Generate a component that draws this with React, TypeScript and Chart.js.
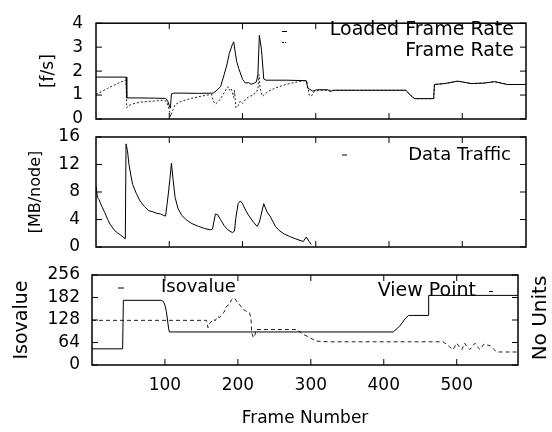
import React, { useEffect, useRef } from "react";
import { Chart, registerables } from "chart.js";
Chart.register(...registerables);

const FONT = "'DejaVu Sans', 'Liberation Sans', sans-serif";

// ---------- Panel 1: frame rates [f/s] ----------
const loadedFrames = [
  0, 41, 42, 60, 80, 95, 98, 100, 101.5, 103,
  106, 120, 140, 160, 165, 170, 175, 179, 182, 186,
  188, 190, 192, 195, 200, 204, 208, 212, 216, 219,
  221, 223, 226, 229, 232, 260, 287, 289, 296, 301,
  317, 319, 325, 360, 400, 423, 429, 435, 461, 462,
  476, 494, 512, 530, 544, 562, 587,
];
const loadedRate = [
  1.75, 1.75, 0.88, 0.88, 0.87, 0.86, 0.75, 0.55, 0.45, 1.05,
  1.08, 1.08, 1.07, 1.08, 1.2, 1.35, 1.86, 2.3, 2.74, 3.1,
  3.22, 2.8, 2.4, 2.1, 1.66, 1.5, 1.52, 1.45, 1.5, 1.55,
  1.86, 3.5, 2.87, 1.67, 1.62, 1.62, 1.6, 1.29, 1.16, 1.22,
  1.22, 1.15, 1.2, 1.2, 1.2, 1.2, 1.0, 0.85, 0.85, 1.44,
  1.48, 1.58, 1.48, 1.5, 1.56, 1.44, 1.44,
];
const rateFrames = [
  0, 8, 16, 24, 32, 40, 41, 42, 44, 50,
  60, 70, 80, 90, 96, 99, 101, 102, 104, 108,
  115, 125, 140, 152, 158, 160, 163, 166, 170, 175,
  180, 182, 184, 186, 188, 189, 191, 194, 197, 200,
  205, 210, 215, 218, 221, 222.5, 224, 227, 229, 235,
  245, 260, 275, 285, 288, 291, 294, 298, 305, 320,
  360, 400, 423, 429, 435, 461, 462, 476, 494, 512,
  530, 544, 562, 587,
];
const frameRate = [
  1.03, 1.15, 1.28, 1.4, 1.52, 1.62, 1.6, 0.47, 0.55, 0.63,
  0.7, 0.73, 0.75, 0.78, 0.75, 0.5, 0.25, 0.1, 0.3, 0.6,
  0.72, 0.82, 0.93, 1.0, 1.02, 0.75, 0.62, 0.7, 0.85, 1.1,
  1.35, 1.2, 1.28, 1.15, 0.9, 1.2, 0.47, 0.55, 0.75, 0.65,
  0.85, 0.95, 1.0, 1.15, 1.2, 1.85, 1.3, 0.95, 1.0, 1.15,
  1.3, 1.45, 1.55, 1.6, 1.55, 1.0, 0.95, 1.15, 1.2, 1.2,
  1.2, 1.2, 1.2, 1.0, 0.85, 0.85, 1.44, 1.48, 1.58, 1.48,
  1.5, 1.56, 1.44, 1.44,
];

// ---------- Panel 2: data traffic [MB/node] ----------
const trafficFrames = [
  0, 2, 4, 8, 12, 16, 19, 24, 28, 34,
  40, 41, 43, 45, 48, 50, 55, 60, 66, 72,
  78, 83, 88, 92, 95, 97, 99, 101, 103, 105,
  108, 112, 117, 124, 131, 140, 148, 156, 159, 163,
  166, 170, 175, 180, 186, 189, 191, 194, 197, 200,
  205, 209, 215, 220, 223, 229, 233, 238, 245, 250,
  257, 264, 272, 283, 287, 291, 294,
];
const dataTraffic = [
  8.8, 7.2, 6.9, 5.9, 5.0, 4.0, 3.35, 2.6, 2.15, 1.7,
  1.2, 15.0, 14.0, 12.0, 10.2, 9.1, 7.8, 6.7, 5.9, 5.3,
  5.1, 4.9, 4.8, 4.6, 4.5, 6.2, 8.0, 10.0, 12.2, 10.0,
  7.2, 5.6, 4.6, 3.9, 3.4, 3.0, 2.7, 2.5, 2.6, 4.8,
  4.7, 4.0, 3.1, 2.5, 2.1, 2.3, 4.3, 6.3, 6.7, 6.3,
  5.2, 4.5, 3.6, 3.0, 3.6, 6.3, 5.2, 4.4, 3.0, 2.4,
  1.9, 1.55, 1.2, 0.8, 1.45, 0.8, 0.35,
];

// ---------- Panel 3: isovalue / view point ----------
const isoFrames = [0, 42, 43, 95, 98, 100, 102, 103.5, 105, 106, 413, 422, 429, 434, 461, 461.5, 584];
const isovalue = [46, 46, 184, 184, 180, 170, 152, 128, 105, 94, 94, 111, 131, 141, 141, 198, 198];
const viewFrames = [
  0, 157, 159, 161, 163, 166, 169, 172, 175, 178,
  181, 183, 185, 188, 191, 194, 196, 198, 200, 203,
  207, 210, 213, 216, 218, 219, 221, 223, 225, 281,
  290, 300, 308, 324, 481, 486, 490, 495, 500, 504,
  507, 511, 514, 518, 525, 528, 532, 537, 546, 550,
  555, 584,
];
const viewPoint = [
  127, 127, 106, 118, 122, 130, 126, 138, 135, 144,
  150, 162, 168, 172, 185, 191, 188, 182, 177, 170,
  158, 155, 150, 149, 130, 92, 78, 82, 101, 101,
  87, 76, 68, 66, 66, 59, 52, 44, 62, 50,
  44, 62, 52, 44, 62, 52, 44, 59, 55, 46,
  37, 37,
];

// ---------- ticks ----------
const xTicks = [100, 200, 300, 400, 500];
const xTickLabels = ["100", "200", "300", "400", "500"];
const yTicks1 = [0, 1, 2, 3, 4];
const yTicks2 = [0, 4, 8, 12, 16];
const yTicks3 = [0, 64, 128, 192, 256];
const yTickLabels3 = ["0", "64", "128", "182", "256"];

const pts = (xs: number[], ys: number[]) => xs.map((x, i) => ({ x, y: ys[i] }));

type TextItem = { text: string; x: number; y: number; align: CanvasTextAlign; size: number; rotate?: boolean };
type Sample = { x1: number; x2: number; y: number; dash: number[] };
type Deco = { xTicks: number[]; yTicks: number[]; texts: TextItem[]; samples: Sample[] };

function decoPlugin(d: Deco) {
  return {
    id: "deco",
    afterDraw(chart: any) {
      const { ctx, chartArea: a, scales } = chart;
      ctx.save();
      ctx.strokeStyle = "#000";
      ctx.lineWidth = 1.5;
      ctx.setLineDash([]);
      ctx.strokeRect(a.left, a.top, a.right - a.left, a.bottom - a.top);
      ctx.lineWidth = 1;
      ctx.beginPath();
      for (const v of d.xTicks) {
        const p = scales.x.getPixelForValue(v);
        ctx.moveTo(p, a.top);
        ctx.lineTo(p, a.top + 6);
        ctx.moveTo(p, a.bottom);
        ctx.lineTo(p, a.bottom - 6);
      }
      for (const v of d.yTicks) {
        const p = scales.y.getPixelForValue(v);
        ctx.moveTo(a.left, p);
        ctx.lineTo(a.left + 6, p);
        ctx.moveTo(a.right, p);
        ctx.lineTo(a.right - 6, p);
      }
      ctx.stroke();
      for (const s of d.samples) {
        ctx.setLineDash(s.dash);
        ctx.beginPath();
        ctx.moveTo(s.x1, s.y);
        ctx.lineTo(s.x2, s.y);
        ctx.stroke();
      }
      ctx.setLineDash([]);
      ctx.fillStyle = "#000";
      ctx.textBaseline = "middle";
      for (const t of d.texts) {
        ctx.font = `${t.size}px ${FONT}`;
        ctx.textAlign = t.align;
        if (t.rotate) {
          ctx.save();
          ctx.translate(t.x, t.y);
          ctx.rotate(-Math.PI / 2);
          ctx.fillText(t.text, 0, 0);
          ctx.restore();
        } else {
          ctx.fillText(t.text, t.x, t.y);
        }
      }
      ctx.restore();
    },
  };
}

const baseLine = { borderColor: "#000", borderWidth: 1, pointRadius: 0, tension: 0, fill: false };

function yAxis(ticks: number[], labels: string[] | null, min: number, max: number, width: number, pad: number, title: string, titleSize: number, titlePad: number) {
  return {
    type: "linear",
    min,
    max,
    afterBuildTicks: (s: any) => { s.ticks = ticks.map((v) => ({ value: v })); },
    afterFit: (s: any) => { s.width = width; },
    grid: { display: false, drawTicks: false },
    border: { display: false },
    ticks: {
      padding: pad,
      color: "#000",
      autoSkip: false,
      font: { family: FONT, size: 17 },
      callback: (v: any, i: number) => (labels ? labels[i] : String(v)),
    },
    title: { display: true, text: title, color: "#000", font: { family: FONT, size: titleSize }, padding: { top: titlePad, bottom: 0 } },
  };
}

function config1() {
  return {
    type: "line",
    data: {
      datasets: [
        { ...baseLine, label: "Loaded Frame Rate", data: pts(loadedFrames, loadedRate) },
        { ...baseLine, label: "Frame Rate", data: pts(rateFrames, frameRate), borderColor: "#222", borderDash: [2, 2] },
      ],
    },
    options: {
      responsive: false, animation: false, events: [],
      layout: { padding: { left: 0, top: 13, right: 26, bottom: 313 } },
      plugins: { legend: { display: false }, tooltip: { enabled: false } },
      scales: {
        x: { type: "linear", min: 0, max: 587, display: false },
        y: yAxis(yTicks1, null, 0, 4, 96, 13, "[f/s]", 17, 38.8),
      },
    },
    plugins: [decoPlugin({
      xTicks, yTicks: yTicks1,
      texts: [
        { text: "Loaded Frame Rate", x: 514, y: 30, align: "right", size: 19 },
        { text: "Frame Rate", x: 514, y: 51, align: "right", size: 19 },
      ],
      samples: [
        { x1: 282, x2: 287, y: 31.5, dash: [] },
        { x1: 282, x2: 286, y: 42.5, dash: [2, 1] },
      ],
    })],
  };
}

function config2() {
  return {
    type: "line",
    data: { datasets: [{ ...baseLine, label: "Data Traffic", data: pts(trafficFrames, dataTraffic) }] },
    options: {
      responsive: false, animation: false, events: [],
      layout: { padding: { left: 0, top: 137, right: 26, bottom: 185 } },
      plugins: { legend: { display: false }, tooltip: { enabled: false } },
      scales: {
        x: { type: "linear", min: 0, max: 587, display: false },
        y: yAxis(yTicks2, null, 0, 16, 96, 16, "[MB/node]", 16, 26.4),
      },
    },
    plugins: [decoPlugin({
      xTicks, yTicks: yTicks2,
      texts: [{ text: "Data Traffic", x: 511, y: 155, align: "right", size: 18 }],
      samples: [{ x1: 342, x2: 347, y: 155, dash: [] }],
    })],
  };
}

function config3() {
  return {
    type: "line",
    data: {
      datasets: [
        { ...baseLine, label: "Isovalue", data: pts(isoFrames, isovalue) },
        { ...baseLine, label: "View Point", data: pts(viewFrames, viewPoint), borderColor: "#222", borderDash: [4, 3] },
      ],
    },
    options: {
      responsive: false, animation: false, events: [],
      layout: { padding: { left: 0, top: 275, right: 34, bottom: 0 } },
      plugins: { legend: { display: false }, tooltip: { enabled: false } },
      scales: {
        x: {
          type: "linear", min: 0, max: 584, position: "bottom",
          afterBuildTicks: (s: any) => { s.ticks = xTicks.map((v) => ({ value: v })); },
          afterFit: (s: any) => { s.height = 67; },
          grid: { display: false, drawTicks: false },
          border: { display: false },
          ticks: { padding: 10, color: "#000", autoSkip: false, maxRotation: 0, font: { family: FONT, size: 17 }, callback: (_v: any, i: number) => xTickLabels[i] },
          title: { display: true, text: "Frame Number", color: "#000", font: { family: FONT, size: 17 }, padding: { top: 0, bottom: 2.8 } },
        },
        y: yAxis(yTicks3, yTickLabels3, 0, 256, 92, 12, "Isovalue", 19, 11.1),
      },
    },
    plugins: [decoPlugin({
      xTicks, yTicks: yTicks3,
      texts: [
        { text: "Isovalue", x: 161, y: 287.5, align: "left", size: 18 },
        { text: "View Point", x: 476, y: 291.5, align: "right", size: 19 },
        { text: "No Units", x: 541, y: 318, align: "center", size: 20, rotate: true },
      ],
      samples: [
        { x1: 118, x2: 124, y: 288, dash: [] },
        { x1: 489, x2: 493, y: 291.5, dash: [] },
      ],
    })],
  };
}

function ChartCanvas({ build }: { build: () => any }) {
  const ref = useRef<HTMLCanvasElement>(null);
  useEffect(() => {
    const chart = new Chart(ref.current as HTMLCanvasElement, build());
    return () => chart.destroy();
  }, []);
  return (
    <canvas
      ref={ref}
      width={552}
      height={432}
      style={{ position: "absolute", left: 0, top: 0, width: 552, height: 432 }}
    />
  );
}

export default function App() {
  return (
    <div style={{ position: "absolute", left: 0, top: 0, width: 552, height: 432, background: "#fff" }}>
      <ChartCanvas build={config1} />
      <ChartCanvas build={config2} />
      <ChartCanvas build={config3} />
    </div>
  );
}
